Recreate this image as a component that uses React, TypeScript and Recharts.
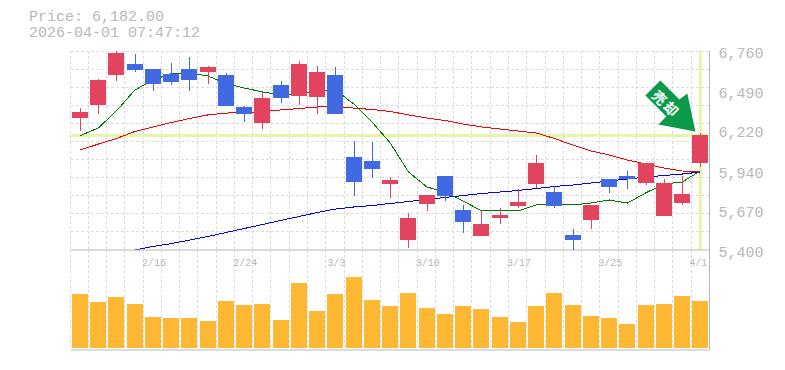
import { Bar, BarChart, CartesianGrid, ComposedChart, Line, ReferenceDot, ReferenceLine, XAxis, YAxis } from 'recharts';

const dates = [
  '2/10', '2/12', '2/13', '2/14', '2/16', '2/17', '2/18', '2/19', '2/20', '2/24', '2/25', '2/26', '2/27', '2/28', '3/3', '3/4', '3/5', '3/6',
  '3/7', '3/10', '3/11', '3/12', '3/13', '3/14', '3/17', '3/18', '3/19', '3/21', '3/24', '3/25', '3/26', '3/27', '3/28', '3/31', '4/1',
];
const opens = [6302, 6391, 6596, 6671, 6637, 6603, 6637, 6616, 6596, 6377, 6268, 6528, 6452, 6446, 6596, 6036, 6008, 5851, 5468, 5714, 5906, 5673, 5496, 5619, 5701, 5851, 5796, 5503, 5605, 5885, 5906, 5858, 5632, 5721, 5995];
const highs = [6370, 6569, 6760, 6739, 6637, 6678, 6719, 6657, 6610, 6384, 6480, 6555, 6692, 6657, 6651, 6145, 6138, 5899, 5653, 5762, 5906, 5708, 5673, 5687, 5817, 6049, 5837, 5543, 5708, 5885, 5940, 5995, 5885, 5906, 6200];
const lows = [6213, 6329, 6555, 6616, 6487, 6528, 6487, 6534, 6384, 6275, 6227, 6405, 6391, 6329, 6329, 5769, 5892, 5755, 5414, 5667, 5735, 5516, 5496, 5577, 5687, 5824, 5687, 5400, 5543, 5790, 5817, 5844, 5632, 5708, 5967];
const closes = [6343, 6562, 6746, 6630, 6534, 6548, 6562, 6651, 6384, 6329, 6439, 6439, 6671, 6616, 6329, 5865, 5954, 5878, 5619, 5776, 5769, 5591, 5578, 5639, 5728, 5995, 5701, 5468, 5708, 5831, 5885, 5995, 5858, 5783, 6186];

const ma5 = [6181, 6234, 6352, 6493, 6562, 6606, 6610, 6589, 6538, 6507, 6480, 6459, 6466, 6487, 6494, 6398, 6275, 6131, 5933, 5831, 5796, 5735, 5667, 5667, 5667, 5708, 5714, 5708, 5721, 5742, 5721, 5790, 5851, 5865, 5940];
const ma25 = [6083, 6124, 6162, 6210, 6241, 6271, 6299, 6323, 6336, 6338, 6347, 6357, 6367, 6377, 6381, 6370, 6360, 6347, 6323, 6302, 6285, 6261, 6241, 6227, 6213, 6200, 6162, 6118, 6077, 6049, 6015, 5988, 5960, 5940, 5933];
const ma75 = [null, null, null, 5400, 5424, 5444, 5468, 5492, 5520, 5547, 5574, 5602, 5629, 5656, 5680, 5694, 5704, 5718, 5731, 5745, 5759, 5772, 5786, 5796, 5807, 5820, 5834, 5844, 5858, 5872, 5885, 5899, 5909, 5919, 5933];
const volumes = [54, 46, 51, 44, 31, 30, 30, 27, 47, 43, 44, 28, 65, 37, 54, 71, 48, 42, 55, 40, 34, 42, 39, 31, 26, 42, 55, 43, 32, 30, 24, 43, 44, 52, 47];

const priceTicks = [6760, 6490, 6220, 5940, 5670, 5400];
const dateTicks = ['2/16', '2/24', '3/3', '3/10', '3/17', '3/25', '4/1'];
const lastPrice = 6182;
const headerLines = ['Price: 6,182.00', '2026-04-01 07:47:12'];
const arrowLabel = '売却';

const table = dates.map((date, i) => ({
  date,
  open: opens[i],
  high: highs[i],
  low: lows[i],
  close: closes[i],
  range: [lows[i], highs[i]],
  ma5: ma5[i],
  ma25: ma25[i],
  ma75: ma75[i],
  volume: volumes[i],
}));

const MONO = '"Liberation Mono", "DejaVu Sans Mono", monospace';
const TEXT = '#b8b8b8';
const GRID = '#dcdcdc';
const RED = '#e2435f';
const BLUE = '#4169e1';
const MARK = '#e6f5a8';
const WIDTH = 785;
const PLOT_LEFT = 71;
const PLOT_RIGHT = 75.5;
const PRICE_DOMAIN = [5400, 6760];
const crisp = { shapeRendering: 'crispEdges' } as const;

// the grid starts a pixel left of the candles in the original
const bandLines = ({ offset }: any) =>
  dates.map((_, i) => offset.left - 1 + (i * (offset.width + 1)) / dates.length);
const rowLines = ({ offset }: any) =>
  Array.from({ length: 11 }, (_, i) => offset.top + (i * offset.height) / 11);

function Candle({ x, y, width, height, payload }: any) {
  const d = payload;
  const perUnit = height / (d.high - d.low);
  const top = y + (d.high - Math.max(d.open, d.close)) * perUnit;
  const bottom = y + (d.high - Math.min(d.open, d.close)) * perUnit;
  const color = d.close >= d.open ? RED : BLUE;
  const left = Math.round(x);
  return (
    <g style={crisp}>
      <rect x={left + 8} y={y} width={1} height={height} fill={color} />
      <rect x={left} y={top} width={width} height={bottom - top} fill={color} />
    </g>
  );
}

function VolumeBar({ x, y, width, height, fill }: any) {
  return <rect x={Math.round(x)} y={y} width={width} height={height} fill={fill} style={crisp} />;
}

function PriceTick({ x, y, payload }: any) {
  return (
    <text x={x + 1} y={y + 7} fontFamily={MONO} fontSize={15} fill={TEXT}>
      {payload.value.toLocaleString('en-US')}
    </text>
  );
}

function DateTick({ x, y, payload }: any) {
  const shift = payload.value === '4/1' ? -2 : 1;
  return (
    <text x={x + shift} y={y + 8} textAnchor="middle" fontFamily={MONO} fontSize={10} fill={TEXT}>
      {payload.value}
    </text>
  );
}

function SellArrow({ cx, cy }: any) {
  // drawn back from the tip, which sits on the last candle
  return (
    <g transform={`translate(${cx - 5},${cy - 4})`}>
      <polygon points="-35,-51 -50,-36 -29,-15 -37,-7 0,0 -8,-38 -16,-32" fill="#0a9a4a" />
      <text
        transform="translate(-29,-28) rotate(45)"
        textAnchor="middle"
        dominantBaseline="central"
        fontFamily='"Noto Sans CJK JP"'
        fontSize={14}
        fontWeight={700}
        letterSpacing={2}
        fill="#ffffff"
      >
        {arrowLabel}
      </text>
    </g>
  );
}

export default function App() {
  return (
    <div style={{ position: 'absolute', left: 0, top: 0, width: WIDTH, height: 370 }}>
      <div style={{ position: 'absolute', left: 29, top: 10, fontFamily: MONO, fontSize: 15, lineHeight: '16px', color: TEXT, whiteSpace: 'pre' }}>
        {headerLines.map((line) => (
          <div key={line}>{line}</div>
        ))}
      </div>
      <div style={{ position: 'absolute', left: 0, top: 250 }}>
        <BarChart
          width={WIDTH}
          height={101}
          data={table}
          margin={{ top: 0, right: 0, bottom: 1, left: PLOT_LEFT }}
        >
          <CartesianGrid stroke={GRID} strokeDasharray="3 2" horizontal={false} verticalCoordinatesGenerator={bandLines} style={crisp} />
          <XAxis dataKey="date" hide />
          <YAxis orientation="right" width={PLOT_RIGHT} domain={[-2, 98]} tick={false} tickLine={false} axisLine={{ stroke: TEXT }} />
          <Bar dataKey="volume" fill="#ffb833" barSize={16} shape={<VolumeBar />} isAnimationActive={false} />
          <ReferenceLine y={-2} stroke={TEXT} strokeWidth={1} />
        </BarChart>
      </div>
      <div style={{ position: 'absolute', left: 0, top: 0 }}>
        <ComposedChart
          width={WIDTH}
          height={275}
          data={table}
          margin={{ top: 51, right: 0, bottom: 0, left: PLOT_LEFT }}
        >
          <CartesianGrid
            stroke={GRID}
            strokeDasharray="3 2"
            verticalCoordinatesGenerator={bandLines}
            horizontalCoordinatesGenerator={rowLines}
            style={crisp}
          />
          <XAxis
            dataKey="date"
            scale="band"
            height={25}
            interval={0}
            ticks={dateTicks}
            tick={<DateTick />}
            tickLine={false}
            axisLine={{ stroke: TEXT }}
          />
          <YAxis
            orientation="right"
            width={PLOT_RIGHT}
            domain={PRICE_DOMAIN}
            allowDataOverflow
            ticks={priceTicks}
            interval={0}
            tick={<PriceTick />}
            tickLine={false}
            axisLine={{ stroke: TEXT }}
          />
          <ReferenceLine y={lastPrice} stroke={MARK} strokeWidth={3} />
          <ReferenceLine x={dates[34]} stroke={MARK} strokeWidth={3} />
          <Line dataKey="ma75" stroke="#0000ff" strokeWidth={1} dot={false} activeDot={false} style={crisp} isAnimationActive={false} />
          <Line dataKey="ma25" stroke="#ff0000" strokeWidth={1} dot={false} activeDot={false} style={crisp} isAnimationActive={false} />
          <Line dataKey="ma5" stroke="#007700" strokeWidth={1} dot={false} activeDot={false} style={crisp} isAnimationActive={false} />
        </ComposedChart>
      </div>
      {/* candles go in their own layer, recharts paints lines over bars otherwise */}
      <div style={{ position: 'absolute', left: 0, top: 0 }}>
        <ComposedChart
          width={WIDTH}
          height={275}
          data={table}
          margin={{ top: 51, right: PLOT_RIGHT, bottom: 25, left: PLOT_LEFT }}
        >
          <XAxis dataKey="date" hide />
          <YAxis hide domain={PRICE_DOMAIN} allowDataOverflow />
          <Bar dataKey="range" barSize={16} shape={<Candle />} isAnimationActive={false} />
          <ReferenceDot x={dates[34]} y={lastPrice} r={0} shape={<SellArrow />} />
        </ComposedChart>
      </div>
    </div>
  );
}
